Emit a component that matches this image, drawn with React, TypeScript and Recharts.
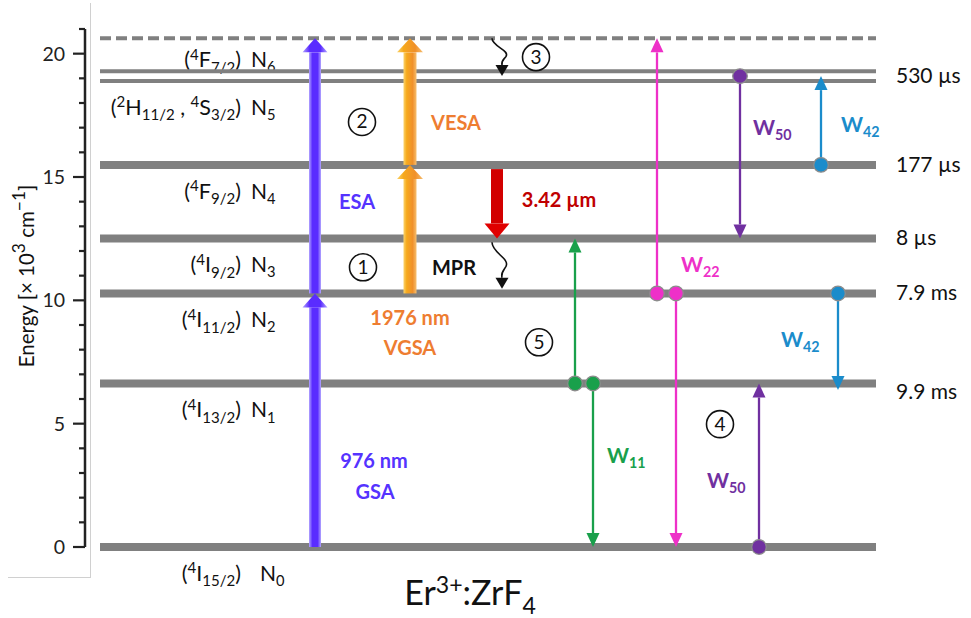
import React from "react";
import { ComposedChart, XAxis, YAxis, Scatter, ReferenceLine, ReferenceDot } from "recharts";

const FONT = "Lato, 'Open Sans', sans-serif";

// Er3+ energy levels (x 10^3 cm^-1)
const levelTerms = ["(^4^I_15/2_)", "(^4^I_13/2_)", "(^4^I_11/2_)", "(^4^I_9/2_)", "(^4^F_9/2_)", "(^2^H_11/2_ , ^4^S_3/2_)", "(^4^F_7/2_)"];
const levelNames = ["N_0_", "N_1_", "N_2_", "N_3_", "N_4_", "N_5_", "N_6_"];
const levelEnergy = [0, 6.63, 10.28, 12.51, 15.49, 18.89, 20.62];
const n5Upper = 19.29;
const lifetimes = ["", "9.9 ms", "7.9 ms", "8 µs", "177 µs", "530 µs", ""];

// pump / emission
const pumpNames = ["GSA", "ESA", "VGSA", "VESA", "3.42 µm"];
const pumpFrom = [0, 10.28, 10.28, 15.49, 15.32];
const pumpTo = [10.28, 20.62, 15.49, 20.62, 12.51];

// energy transfer processes
const transNames = ["W11", "W11", "W22", "W22", "W50", "W50", "W42", "W42"];
const transFrom = [6.63, 6.63, 10.28, 10.28, 19.09, 0, 15.49, 10.28];
const transTo = [12.51, 0, 20.62, 0, 12.51, 6.63, 19.09, 6.36];

// multiphonon relaxation
const mprFrom = [12.35, 20.62];
const mprTo = [10.47, 19.09];

const yTicks = [0, 1, 2, 3, 4, 5, 6, 7, 8, 9, 10, 11, 12, 13, 14, 15, 16, 17, 18, 19, 20, 21];

// layout (horizontal columns of the diagram)
const LEVEL_X = [15, 791];
const PUMP_X = [230, 230, 325, 325, 412];
const TRANS_X = [490, 508, 572, 591, 655, 674, 736, 753];
const MPR_X = [417, 417];

const levelRows = levelEnergy.map((e) => ({ x: LEVEL_X[0], y: e }));

const C = {
  level: "#808080",
  violet: "#5533ff",
  orange: "#ee7d31",
  red: "#c00000",
  green: "#19a04b",
  magenta: "#ee30c8",
  purple: "#7030a0",
  blue: "#1b8ccb",
};
const TRANS_COLOR = [C.green, C.green, C.magenta, C.magenta, C.purple, C.purple, C.blue, C.blue];

const NOTES = [
  { t: "ESA", x: 272, y: 13.7, c: C.violet },
  { t: "976 nm", x: 289, y: 3.19, c: C.violet },
  { t: "GSA", x: 290, y: 1.94, c: C.violet },
  { t: "1976 nm", x: 325, y: 8.99, c: C.orange },
  { t: "VGSA", x: 325, y: 7.78, c: C.orange },
  { t: "VESA", x: 371, y: 16.9, c: C.orange },
  { t: "3.42 µm", x: 474, y: 13.77, c: C.red },
  { t: "MPR", x: 369, y: 11.02, c: "#111" },
];
const W_NOTES = [
  { t: "W_11_", x: 522, y: 3.39, c: C.green },
  { t: "W_22_", x: 596, y: 11.14, c: C.magenta },
  { t: "W_50_", x: 668, y: 16.7, c: C.purple },
  { t: "W_50_", x: 622, y: 2.38, c: C.purple },
  { t: "W_42_", x: 756, y: 16.82, c: C.blue },
  { t: "W_42_", x: 696, y: 8.1, c: C.blue },
];
const STEPS = ["1", "2", "3", "4", "5"];
const STEP_POS = [[278, 11.34], [277, 17.23], [451, 19.86], [635, 4.98], [454, 8.3]];

function Rich({ x, y, text, size, fill = "#000", weight = 400, anchor = "start", transform, ratio = 0.68, up = 0.36, down = 0.24 }: any) {
  const parts = text.split(/(\^[^^]*\^|_[^_]*_)/).filter((s: string) => s.length);
  let shift = 0;
  const spans = parts.map((p: string, i: number) => {
    let t = p;
    let target = 0;
    let fs = size;
    if (p.startsWith("^")) {
      t = p.slice(1, -1);
      target = -size * up;
      fs = size * ratio;
    } else if (p.startsWith("_")) {
      t = p.slice(1, -1);
      target = size * down;
      fs = size * ratio;
    }
    const dy = target - shift;
    shift = target;
    return (
      <tspan key={i} dy={dy} fontSize={fs}>
        {t}
      </tspan>
    );
  });
  return (
    <text x={x} y={y} textAnchor={anchor} fill={fill} fontWeight={weight} fontSize={size}
      fontFamily={FONT} transform={transform} style={{ whiteSpace: "pre" }}>
      {spans}
    </text>
  );
}

const levelShape = (i: number) => (p: any) => {
  const { x1, x2, y1 } = p;
  const top = i === 6;
  const thin = i >= 5;
  const by = y1 + (top ? 29 : 34);
  return (
    <g>
      <line x1={x1} x2={x2} y1={y1} y2={y1} stroke={C.level} strokeWidth={thin ? 4 : 8}
        strokeDasharray={top ? "11 5" : undefined} />
      <Rich x={x1 + 141} y={by} text={levelTerms[i]} size={21.5} ratio={0.7} fill="#111" anchor="end" />
      <Rich x={x1 + (i === 0 ? 160 : 151)} y={by} text={levelNames[i]} size={21} ratio={0.7} fill="#111" />
      {lifetimes[i] && (
        <text x={x2 + 20} y={y1 + (i === 1 ? 16 : i === 5 ? 2 : 7)} fontSize={21} fontFamily={FONT} fill="#111">
          {lifetimes[i]}
        </text>
      )}
    </g>
  );
};

const pumpShape = (i: number) => (p: any) => {
  const { x1, y1, y2 } = p;
  const kind = i < 2 ? "v" : i < 4 ? "o" : "r";
  const dir = y2 < y1 ? -1 : 1;
  const headLen = kind === "r" ? 15 : 14;
  const headHalf = kind === "o" ? 13 : 12.5;
  const shaftHalf = kind === "o" ? 6.5 : 6;
  const base = y2 - dir * headLen;
  const fill = kind === "v" ? `url(#gv${i})` : kind === "o" ? `url(#go${i})` : "#d20000";
  const headFill = kind === "v" ? `url(#gv${i})` : kind === "o" ? `url(#go${i})` : "#e00000";
  return (
    <g>
      <defs>
        <linearGradient id={`gv${i}`} x1="0" x2="1" y1="0" y2="0">
          <stop offset="0" stopColor="#b3a6ff" />
          <stop offset="0.28" stopColor="#5a2cff" />
          <stop offset="0.72" stopColor="#5a2cff" />
          <stop offset="1" stopColor="#b3a6ff" />
        </linearGradient>
        <linearGradient id={`go${i}`} x1="0" x2="1" y1="0" y2="0">
          <stop offset="0" stopColor="#fbd36a" />
          <stop offset="0.25" stopColor="#f6a91c" />
          <stop offset="0.7" stopColor="#f0902a" />
          <stop offset="1" stopColor="#f6bf70" />
        </linearGradient>
      </defs>
      <rect x={x1 - shaftHalf} width={shaftHalf * 2} y={Math.min(y1, base)} height={Math.abs(base - y1)} fill={fill} />
      <polygon points={`${x1 - headHalf},${base} ${x1 + headHalf},${base} ${x1},${y2}`} fill={headFill} />
    </g>
  );
};

const transShape = (i: number) => (p: any) => {
  const { x1, y1, y2 } = p;
  const dir = y2 < y1 ? -1 : 1;
  const base = y2 - dir * 14;
  const col = TRANS_COLOR[i];
  return (
    <g>
      <line x1={x1} x2={x1} y1={y1} y2={base} stroke={col} strokeWidth={2.3} />
      <polygon points={`${x1 - 6.5},${base} ${x1 + 6.5},${base} ${x1},${y2}`} fill={col} />
    </g>
  );
};

const mprShape = (p: any) => {
  const { x1, y1, y2 } = p;
  const base = y2 - 11;
  const L = base - y1;
  const d = `M ${x1 - 10} ${y1} C ${x1 - 10} ${y1 + L * 0.3} ${x1 + 8} ${y1 + L * 0.45} ${x1 + 4} ${y1 + L * 0.68} C ${x1 + 1} ${y1 + L * 0.82} ${x1 - 1} ${y1 + L * 0.85} ${x1} ${base}`;
  return (
    <g>
      <path d={d} fill="none" stroke="#111" strokeWidth={1.6} />
      <polygon points={`${x1 - 6.5},${base} ${x1 + 6.5},${base} ${x1},${y2}`} fill="#111" />
    </g>
  );
};

const AxisTick = (props: any) => {
  const { x, y, payload } = props;
  const v = payload.value;
  const major = v % 5 === 0;
  return (
    <g>
      <line x1={x - (major ? 12 : 6)} x2={x} y1={y} y2={y} stroke="#222" strokeWidth={2.2} />
      {major && (
        <text x={x - 20} y={y + 7} textAnchor="end" fontSize={19.5} fontFamily={FONT} fill="#222">
          {v}
        </text>
      )}
    </g>
  );
};

const YLabel = (props: any) => {
  const vb = props.viewBox || { x: 0, y: 29, width: 85, height: 518 };
  const cx = vb.x + 27;
  const cy = vb.y + vb.height / 2 - 12;
  return (
    <Rich x={cx} y={cy + 7} text={"Energy [× 10^3^ cm^−1^]"} size={20.5} ratio={0.85} up={0.42} fill="#111" anchor="middle"
      transform={`rotate(-90, ${cx}, ${cy})`} />
  );
};

export default function App() {
  return (
    <div style={{ position: "absolute", left: 0, top: 0, width: 971, height: 618, background: "#fff" }}>
      <div style={{ position: "absolute", left: 8, top: 3, width: 82, height: 574, borderRight: "1px solid #d0d0d0", borderBottom: "1px solid #d0d0d0" }} />
      <div style={{ position: "absolute", left: 0, top: 0 }}>
        <ComposedChart width={971} height={618} data={levelRows} margin={{ top: 29, right: 86, bottom: 71, left: 0 }}>
          <XAxis type="number" dataKey="x" domain={[0, 800]} hide />
          <YAxis type="number" dataKey="y" domain={[0, 21]} ticks={yTicks} interval={0} width={85} tickSize={0} tickMargin={0}
            tickLine={false} axisLine={{ stroke: "#222", strokeWidth: 2.5 }} tick={<AxisTick />}
            label={{ content: YLabel }} />
          <Scatter data={levelRows} dataKey="y" isAnimationActive={false} shape={() => <g />} />

          {levelEnergy.map((e, i) => (
            <ReferenceLine key={`lv${i}`} segment={[{ x: LEVEL_X[0], y: e }, { x: LEVEL_X[1], y: e }]} shape={levelShape(i)} />
          ))}
          <ReferenceLine segment={[{ x: LEVEL_X[0], y: n5Upper }, { x: LEVEL_X[1], y: n5Upper }]}
            shape={(p: any) => <line x1={p.x1} x2={p.x2} y1={p.y1} y2={p.y1} stroke={C.level} strokeWidth={4} />} />

          {pumpNames.map((n, i) => (
            <ReferenceLine key={`pm${n}`} segment={[{ x: PUMP_X[i], y: pumpFrom[i] }, { x: PUMP_X[i], y: pumpTo[i] }]} shape={pumpShape(i)} />
          ))}
          {mprFrom.map((e, i) => (
            <ReferenceLine key={`mpr${i}`} segment={[{ x: MPR_X[i], y: e }, { x: MPR_X[i], y: mprTo[i] }]} shape={mprShape} />
          ))}
          {transNames.map((n, i) => (
            <ReferenceLine key={`tr${i}`} segment={[{ x: TRANS_X[i], y: transFrom[i] }, { x: TRANS_X[i], y: transTo[i] }]} shape={transShape(i)} />
          ))}
          {transNames.map((n, i) => (
            <ReferenceDot key={`dot${i}`} x={TRANS_X[i]} y={transFrom[i]} r={7}
              shape={(p: any) => <circle cx={p.cx} cy={p.cy} r={7.3} fill={TRANS_COLOR[i]} stroke="#8c8c8c" strokeWidth={1.3} />} />
          ))}

          {NOTES.map((n, i) => (
            <ReferenceDot key={`nt${i}`} x={n.x} y={n.y} r={1}
              shape={(p: any) => <Rich x={p.cx} y={p.cy} text={n.t} size={20} weight={700} fill={n.c} anchor="middle" />} />
          ))}
          {W_NOTES.map((n, i) => (
            <ReferenceDot key={`w${i}`} x={n.x} y={n.y} r={1}
              shape={(p: any) => <Rich x={p.cx} y={p.cy} text={n.t} size={21} weight={700} fill={n.c} />} />
          ))}
          {STEPS.map((s, i) => (
            <ReferenceDot key={`st${s}`} x={STEP_POS[i][0]} y={STEP_POS[i][1]} r={14}
              shape={(p: any) => (
                <g>
                  <circle cx={p.cx} cy={p.cy} r={13.5} fill="#fff" stroke="#111" strokeWidth={1.6} />
                  <text x={p.cx} y={p.cy + 6.5} textAnchor="middle" fontSize={19} fontFamily={FONT} fill="#111">{s}</text>
                </g>
              )} />
          ))}
          <ReferenceDot x={385} y={-2.37} r={1} ifOverflow="visible"
            shape={(p: any) => <Rich x={p.cx} y={p.cy} text={"Er^3+^:ZrF_4_"} size={34} fill="#111" anchor="middle" />} />
        </ComposedChart>
      </div>
    </div>
  );
}
